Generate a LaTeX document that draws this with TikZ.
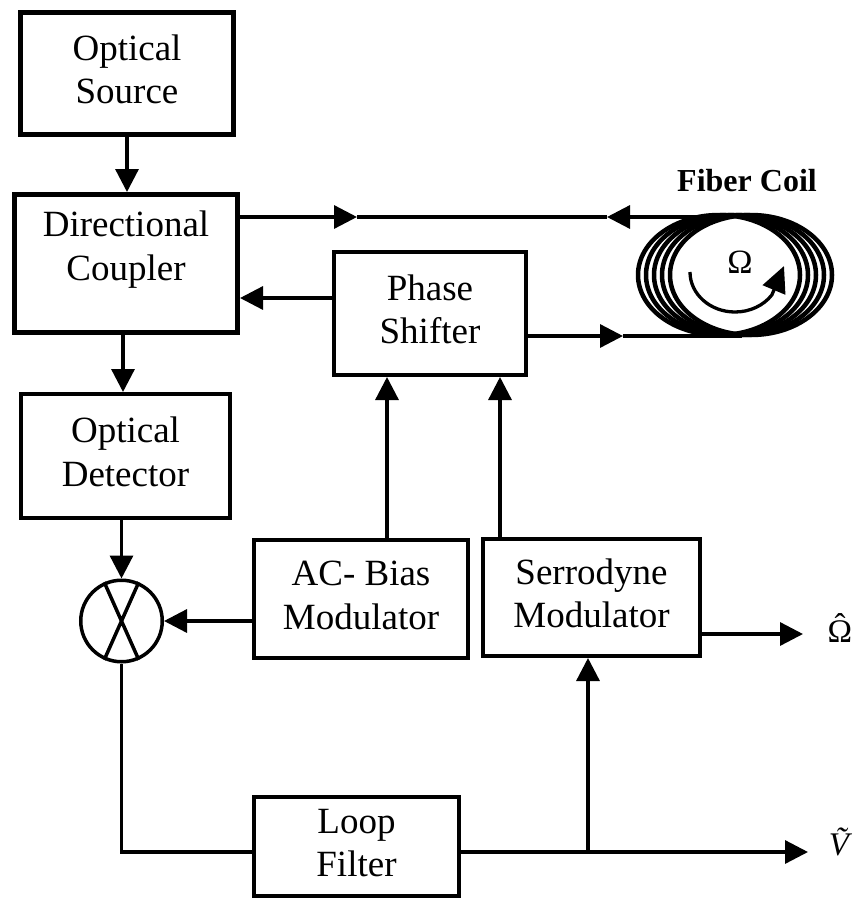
\documentclass[tikz,border=0pt]{standalone}
\usepackage{fontspec}
\setmainfont{Liberation Serif}
\usetikzlibrary{arrows.meta}
\newcommand{\bigfnt}{\fontsize{37}{43.5}\selectfont}
\begin{document}
\begin{tikzpicture}[x=1pt,y=-1pt,
  thickbox/.style={draw, line width=5pt, inner sep=0pt, align=center, font=\bigfnt},
  thinbox/.style={draw, line width=4pt, inner sep=0pt, align=center, font=\bigfnt},
  conn/.style={line width=3.3pt, line join=miter},
  arr/.style={conn, -{Triangle[length=23pt,width=23pt]}},
  coilline/.style={line width=4.5pt},
  lbl/.style={inner sep=0pt, font=\bigfnt}
]
\useasboundingbox (0,0) rectangle (854,900);

% boxes
\node[thickbox, minimum width=213pt, minimum height=122pt] (src) at (127,73.5) {\strut Optical\\Source\strut};
\node[thickbox, minimum width=223pt, minimum height=138pt] (cpl) at (126,263.5) {};
\node[lbl, align=center] (cplt) at (126,250) {\strut Directional\\Coupler\strut};
\node[thinbox, minimum width=209pt, minimum height=124pt] (det) at (125.5,456) {\strut Optical\\Detector\strut};
\node[thinbox, minimum width=192pt, minimum height=123pt] (ps) at (430,313.5) {\strut Phase\\Shifter\strut};
\node[thinbox, minimum width=214pt, minimum height=118pt] (ac) at (361,599) {\strut AC- Bias\\Modulator\strut};
\node[thinbox, minimum width=217pt, minimum height=117pt] (serr) at (591.5,597.5) {\strut Serrodyne\\Modulator\strut};
\node[thinbox, minimum width=205pt, minimum height=99pt] (lf) at (356.5,846.5) {\strut Loop\\Filter\strut};
\node[draw, circle, line width=3.5pt, minimum size=81.5pt, inner sep=0pt] (mul) at (121.5,621) {};
\draw[line width=3.5pt] (mul.114) -- (mul.294) (mul.66) -- (mul.246);

% helper coordinates
\coordinate (y217) at (0,217);
\coordinate (y298) at (0,298);
\coordinate (y336) at (0,336);
\coordinate (y634) at (0,634);
\coordinate (y852) at (0,852);
\coordinate (x123) at (123,0);
\coordinate (x387) at (387,0);
\coordinate (x500) at (500,0);
\coordinate (x588) at (588,0);
\coordinate (tA) at (357,217);
\coordinate (tB) at (607,217);
\coordinate (ctop) at (723,217);
\coordinate (bA) at (623,336);
\coordinate (cbot) at (742,336);
\coordinate (oOut) at (803,634);
\coordinate (vOut) at (808,852);

% fiber coil
\foreach \cx in {719,727,735,743,751}
  \draw[coilline] (\cx,275) ellipse [x radius=81, y radius=60];
\node[inner sep=0pt, font=\fontsize{32}{36}\selectfont\bfseries] (fc) at (747,181) {Fiber Coil};
\node[inner sep=0pt, font=\fontsize{34}{36}\selectfont] (om) at (740,262) {Ω};
\draw[line width=3.3pt, -{Triangle[length=26pt,width=24pt]}] (690,272) arc [start angle=180, end angle=35, x radius=45, y radius=40] -- (784,266);

% connectors
\draw[arr] (src.south) -- (src.south |- cpl.north);
\draw[arr] (cpl.east |- y217) -- (tA);
\draw[conn] (tA) -- (tB);
\draw[arr] (ctop) -- (tB);
\draw[arr] (ps.west |- y298) -- (cpl.east |- y298);
\draw[arr] (ps.east |- y336) -- (bA);
\draw[conn] (bA) -- (cbot);
\draw[arr] (cpl.south -| x123) -- (det.north -| x123);
\draw[arr] (mul.north |- det.south) -- (mul.north);
\draw[arr] (ac.west |- mul.east) -- (mul.east);
\draw[arr] (ac.north -| x387) -- (ps.south -| x387);
\draw[arr] (serr.north -| x500) -- (ps.south -| x500);
\draw[arr] (serr.east |- y634) -- (oOut);
\node[inner sep=0pt, font=\fontsize{33}{36}\selectfont] (ohat) at (840,628) {\accent"02C6 Ω};
\draw[conn] (mul.south) -- (mul.south |- y852) -- (lf.west |- y852);
\draw[arr] (lf.east |- y852) -- (vOut);
\draw[arr] (x588 |- y852) -- (serr.south -| x588);
\node[inner sep=0pt, font=\fontsize{33}{36}\selectfont\itshape] (vt) at (839,842) {V^^^^0303};
\end{tikzpicture}
\end{document}
